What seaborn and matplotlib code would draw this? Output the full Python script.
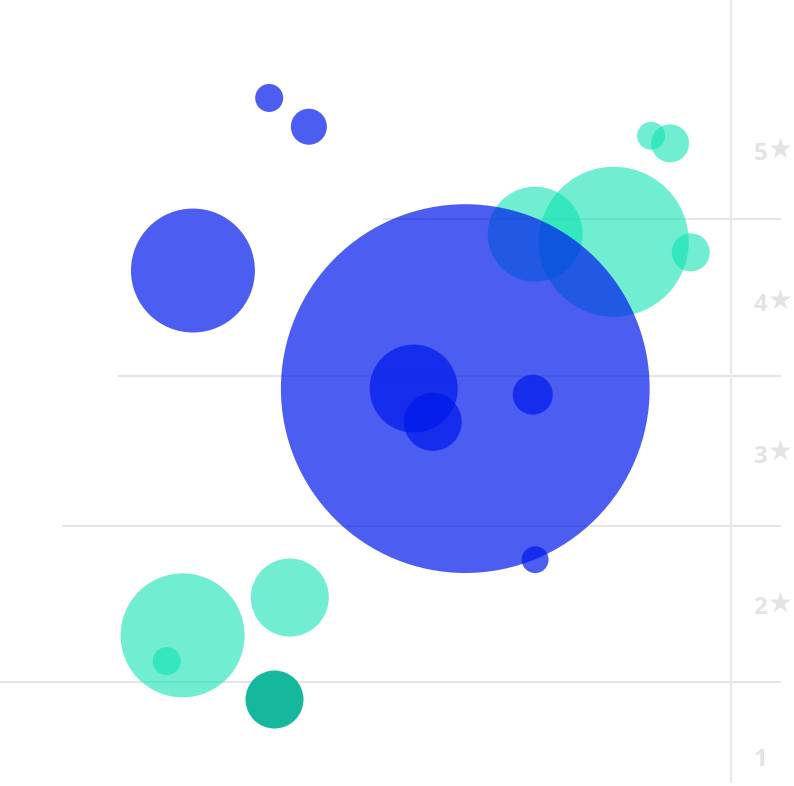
import pandas as pd
import matplotlib.pyplot as plt
import seaborn as sns

# bubble data: x position (0-100 scale), rating (1-5 stars), review count (area)
blue_x = [33.9, 38.9, 24.3, 58.6, 52.1, 54.5, 67.1, 67.4]
blue_rating = [5.35, 5.16, 4.21, 3.43, 3.43, 3.21, 3.39, 2.30]
blue_reviews = [196, 324, 3840, 34000, 1940, 840, 400, 180]

teal_x = [82.0, 84.4, 67.4, 77.3, 87.0, 36.5, 23.0, 21.0]
teal_rating = [5.10, 5.05, 4.45, 4.40, 4.33, 2.05, 1.80, 1.63]
teal_reviews = [196, 361, 2256, 5625, 361, 1521, 3844, 196]

dark_x = [34.5]
dark_rating = [1.38]
dark_reviews = [841]

star_ticks = [5, 4, 3, 2, 1]
star_labels = ['5', '4', '3', '2', '1']
star_marks = ['★', '★', '★', '★', '']

grid_y = [4.55, 3.51, 2.52, 1.49]
grid_start = [48.2, 14.9, 7.8, 0]

blue = pd.DataFrame({'x': blue_x, 'rating': blue_rating, 'reviews': blue_reviews})
teal = pd.DataFrame({'x': teal_x, 'rating': teal_rating, 'reviews': teal_reviews})
dark = pd.DataFrame({'x': dark_x, 'rating': dark_rating, 'reviews': dark_reviews})

sns.set_style('white')
fig = plt.figure(figsize=(7.94, 7.86), dpi=100)
ax = fig.add_axes([0, 0, 1, 1])

# staircase grid lines + vertical rule
ax.hlines(grid_y, grid_start, 98.4, color='#dedede', linewidth=1.1, zorder=1)
ax.vlines(92.1, 0.825, 6.1, color='#e8e8e8', linewidth=1.5, zorder=1)

k = 2.0736  # px^2 -> pt^2 at 100 dpi
sns.scatterplot(data=teal, x='x', y='rating', s=teal['reviews'] * k,
                color='#0ae3b2', alpha=0.58, linewidth=0, ax=ax, zorder=2)
sns.scatterplot(data=dark, x='x', y='rating', s=dark['reviews'] * k,
                color='#15b89c', alpha=1, linewidth=0, ax=ax, zorder=2)
sns.scatterplot(data=blue, x='x', y='rating', s=blue['reviews'] * k,
                color='#0019ec', alpha=0.7, linewidth=0, ax=ax, zorder=3)

for val, lab, mark in zip(star_ticks, star_labels, star_marks):
    ax.text(94.9, val - 0.02, lab, fontsize=17.5, fontweight='bold', color='#e3e3e3',
            family=['Open Sans', 'DejaVu Sans'], va='center', ha='left')
    ax.text(99.8, val + 0.01, mark, fontsize=20, color='#e3e3e3',
            family='DejaVu Sans', va='center', ha='right')

ax.set_xlim(0, 100)
ax.set_ylim(0.805, 5.997)
ax.axis('off')

fig.savefig('out.png', dpi=100)
